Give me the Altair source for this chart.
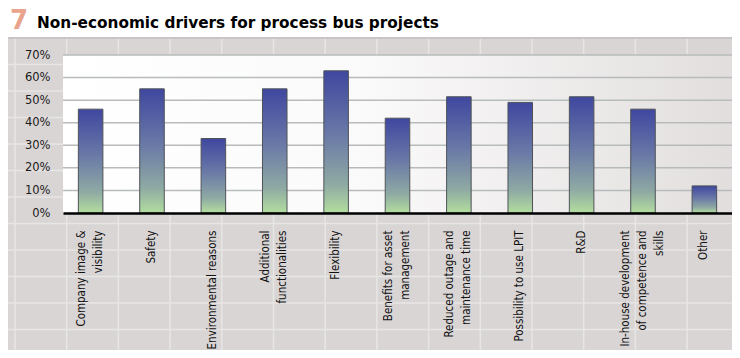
import altair as alt
import pandas as pd

categories = [
    "Company image &|visibility",
    "Safety",
    "Environmental  reasons",
    "Additional|functionalities",
    "Flexibility",
    "Benefits for asset|management",
    "Reduced outage and|maintenance time",
    "Possibility to use LPIT",
    "R&D",
    "In-house development|of competence and|skills",
    "Other",
]
values = [0.46, 0.55, 0.33, 0.55, 0.63, 0.42, 0.515, 0.49, 0.515, 0.46, 0.12]
y_ticks = [0.0, 0.1, 0.2, 0.3, 0.4, 0.5, 0.6, 0.7]

title_number = "7"
title_text = "Non-economic drivers for process bus projects"

W = 669
H = 158
PAD_L, PAD_T, PAD_R, PAD_B = 55, 47, 0, 137
LINE_H = 17

df = pd.DataFrame({"category": categories, "value": values})
grid_df = pd.DataFrame({"value": y_ticks[1:]})
one = alt.Data(values=[{}])

# cell-grid decoration (pixel offsets relative to plot area)
col_px = [15 + 51.7 * i - 63 for i in range(15)]
row_px = [38 + 26.5 * i - 55 for i in range(13)]
vcells = pd.DataFrame({"px": col_px})
hcells = pd.DataFrame({"py": row_px})

yscale = alt.Scale(domain=[0, 0.7], nice=False, zero=True)
y_axis = alt.Axis(values=y_ticks, format=".0%", grid=False, ticks=False,
                  domain=False, labelPadding=13, labelFont="DejaVu Sans",
                  labelFontSize=11.5, labelColor="#1a1a1a",
                  labelOverlap=False, zindex=1)
y_enc = alt.Y("value:Q", scale=yscale, title=None, axis=y_axis)

bg = alt.Chart(one).mark_rect(color="#d9d5d5").encode(
    x=alt.value(-PAD_L), x2=alt.value(W + PAD_R),
    y=alt.value(-17), y2=alt.value(H + PAD_B),
)
vlines = alt.Chart(vcells).mark_rule(color="#e8e5e5", strokeWidth=1.5).encode(
    x=alt.X("px:Q", scale=None), y=alt.value(-17), y2=alt.value(H + PAD_B)
)
hlines = alt.Chart(hcells).mark_rule(color="#e8e5e5", strokeWidth=1.5).encode(
    y=alt.Y("py:Q", scale=None), x=alt.value(-PAD_L), x2=alt.value(W + PAD_R)
)
topline = alt.Chart(one).mark_rule(color="#c9c5c5", strokeWidth=2).encode(
    x=alt.value(-PAD_L), x2=alt.value(W + PAD_R), y=alt.value(-17)
)
plotbg = alt.Chart(one).mark_rect(
    color=alt.Gradient(
        gradient="linear", x1=0, y1=0, x2=1, y2=0,
        stops=[alt.GradientStop(color="#ffffff", offset=0),
               alt.GradientStop(color="#fbfafa", offset=0.45),
               alt.GradientStop(color="#e2dede", offset=1)],
    )
).encode(x=alt.value(0), x2=alt.value(W), y=alt.value(0), y2=alt.value(H))

gridl = alt.Chart(grid_df).mark_rule(color="#b7bbbb", strokeWidth=1.5).encode(
    y=y_enc, x=alt.value(0), x2=alt.value(W)
)

bars = alt.Chart(df).mark_bar(
    stroke="#4f5358", strokeWidth=1,
    color=alt.Gradient(
        gradient="linear", x1=0, y1=0, x2=0, y2=1,
        stops=[alt.GradientStop(color="#3f479f", offset=0),
               alt.GradientStop(color="#6a79a7", offset=0.45),
               alt.GradientStop(color="#8faaa3", offset=0.8),
               alt.GradientStop(color="#b3de9e", offset=1)],
    ),
).encode(
    x=alt.X("category:N", sort=None, title=None,
            scale=alt.Scale(paddingInner=0.6, paddingOuter=0.25),
            axis=alt.Axis(labelAngle=270, labelAlign="right", labelBaseline="middle",
                          labelExpr="split(datum.label, '|')", labelPadding=17,
                          labelOffset=alt.ExprRef(
                              expr=f"-(length(split(datum.label, '|')) - 1) * {LINE_H / 2}"),
                          labelFont="DejaVu Sans Condensed, Liberation Sans Narrow, sans-serif",
                          labelFontSize=11.5, labelLineHeight=LINE_H, labelColor="#111111",
                          ticks=False, domainColor="#000000", domainWidth=2.5,
                          labelLimit=200, labelOverlap=False, zindex=1)),
    y=y_enc,
)

num = alt.Chart(one).mark_text(
    text=title_number, font="DejaVu Sans", fontSize=26, fontWeight="bold",
    color="#e8a48c", align="left", baseline="alphabetic",
).encode(x=alt.value(-PAD_L + 2), y=alt.value(-PAD_T + 21))
ttl = alt.Chart(one).mark_text(
    text=title_text, font="DejaVu Sans", fontSize=15.3, fontWeight="bold",
    color="#000000", align="left", baseline="alphabetic",
).encode(x=alt.value(-PAD_L + 29), y=alt.value(-PAD_T + 19.5))

chart = alt.layer(bg, vlines, hlines, topline, plotbg, gridl, bars, num, ttl).properties(
    width=W, height=H,
    padding={"left": PAD_L, "top": PAD_T, "right": PAD_R, "bottom": PAD_B},
    autosize=alt.AutoSizeParams(type="none"),
    background="#ffffff",
).configure_view(stroke=None)

chart.save("out.html", embed_options={"renderer": "svg", "actions": False})
